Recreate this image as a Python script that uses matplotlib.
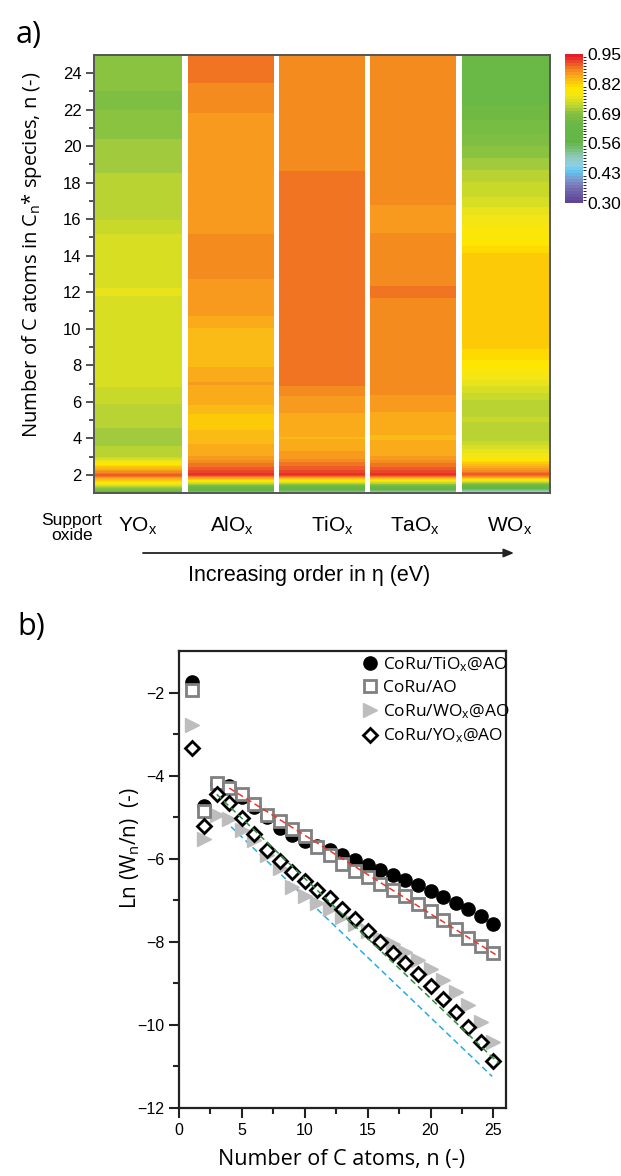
import numpy as np
import matplotlib
matplotlib.use("Agg")
import matplotlib.pyplot as plt
from matplotlib.colors import LinearSegmentedColormap, BoundaryNorm

# ------------------------------------------------------------------ data
# panel a : chain-growth probability per support oxide and carbon number
supports = ["YO", "AlO", "TiO", "TaO", "WO"]
n_carbon = np.arange(1, 26)
alpha_YOx = [0.62, 0.91, 0.725, 0.71, 0.72, 0.73, 0.745, 0.745, 0.755, 0.745,
             0.745, 0.758, 0.745, 0.745, 0.745, 0.728, 0.725, 0.72, 0.712, 0.705,
             0.70, 0.69, 0.69, 0.70, 0.70]
alpha_AlOx = [0.50, 0.93, 0.86, 0.84, 0.825, 0.85, 0.86, 0.845, 0.845, 0.845,
              0.865, 0.865, 0.875, 0.875, 0.875, 0.86, 0.86, 0.86, 0.86, 0.86,
              0.86, 0.875, 0.881, 0.89, 0.89]
alpha_TiOx = [0.48, 0.93, 0.865, 0.845, 0.855, 0.865, 0.888, 0.89, 0.89, 0.89,
              0.89, 0.89, 0.89, 0.89, 0.89, 0.89, 0.89, 0.89, 0.882, 0.875,
              0.875, 0.875, 0.875, 0.875, 0.875]
alpha_TaOx = [0.47, 0.93, 0.86, 0.845, 0.85, 0.87, 0.875, 0.875, 0.875, 0.875,
              0.875, 0.89, 0.875, 0.875, 0.875, 0.862, 0.875, 0.875, 0.875, 0.875,
              0.875, 0.875, 0.875, 0.875, 0.875]
alpha_WOx = [0.44, 0.91, 0.78, 0.72, 0.73, 0.725, 0.76, 0.80, 0.822, 0.825,
             0.825, 0.825, 0.825, 0.825, 0.79, 0.775, 0.745, 0.73, 0.71, 0.69,
             0.67, 0.655, 0.64, 0.64, 0.64]
cbar_ticks = [0.30, 0.43, 0.56, 0.69, 0.82, 0.95]

# panel b : ASF plots
n_b = np.arange(1, 26)
lnw_TiOx = [-1.75, -4.74, -4.20, -4.25, -4.52, -4.75, -5.00, -5.26, -5.44, -5.57,
            -5.69, -5.79, -5.91, -6.03, -6.15, -6.26, -6.39, -6.51, -6.64, -6.78,
            -6.91, -7.06, -7.22, -7.37, -7.56]
lnw_AO = [-1.93, -4.86, -4.18, -4.30, -4.43, -4.68, -4.95, -5.08, -5.28, -5.46,
          -5.71, -5.92, -6.12, -6.30, -6.45, -6.60, -6.75, -6.90, -7.08, -7.27,
          -7.48, -7.69, -7.90, -8.10, -8.27]
lnw_WOx = [-2.77, -5.53, -4.95, -5.05, -5.30, -5.55, -5.92, -6.22, -6.68, -6.90,
           -7.07, -7.22, -7.40, -7.56, -7.75, -7.90, -8.06, -8.24, -8.44, -8.66,
           -8.92, -9.20, -9.52, -9.94, -10.42]
lnw_YOx = [-3.33, -5.22, -4.45, -4.66, -5.03, -5.40, -5.80, -6.05, -6.33, -6.53,
           -6.75, -6.95, -7.20, -7.45, -7.74, -8.00, -8.26, -8.52, -8.78, -9.06,
           -9.38, -9.70, -10.04, -10.42, -10.86]
fit_AO_n, fit_AO_y = [4, 25.3], [-4.30, -8.33]
fit_YOx_n, fit_YOx_y = [3, 25.4], [-4.45, -10.92]
fit_WOx_n, fit_WOx_y = [3, 24.9], [-4.90, -11.24]

# ------------------------------------------------------------------ style
W, H = 621, 1176
def fx(x): return x / W
def fy(y): return 1 - y / H

HUM = ["Open Sans", "DejaVu Sans"]
ARIAL = ["Liberation Sans", "DejaVu Sans"]
plt.rcParams["font.family"] = ARIAL
plt.rcParams["mathtext.fontset"] = "custom"
plt.rcParams["mathtext.rm"] = "Liberation Sans"
plt.rcParams["mathtext.it"] = "Liberation Sans:italic"

stops = [(0.30, "#5e4596"), (0.36, "#7670b2"), (0.40, "#7d9ccf"), (0.43, "#5fc4ee"),
         (0.46, "#8ed0e6"), (0.50, "#8ec7b4"), (0.53, "#77bf78"), (0.56, "#63b548"),
         (0.64, "#68b846"), (0.68, "#7cbd42"), (0.70, "#8cc43f"), (0.71, "#a0ca3c"),
         (0.72, "#b5d334"), (0.745, "#d4dd22"), (0.77, "#f0e51a"), (0.80, "#ffe800"),
         (0.825, "#fdd000"), (0.845, "#fbb918"), (0.86, "#f9a51b"), (0.875, "#f6921e"),
         (0.89, "#f28021"), (0.91, "#ee5a28"), (0.93, "#e8362a"), (0.95, "#e31e26")]
lo, hi = 0.30, 0.95
cmap = LinearSegmentedColormap.from_list(
    "origin", [((v - lo) / (hi - lo), c) for v, c in stops])
levels = np.linspace(lo, hi, 51)
norm = BoundaryNorm(levels, cmap.N)

fig = plt.figure(figsize=(W / 100, H / 100), dpi=100)

# ------------------------------------------------------------------ panel a
axa = fig.add_axes([fx(94), fy(493.3), fx(550) - fx(94), fy(54.7) - fy(493.3)])
cols = [alpha_YOx, alpha_AlOx, alpha_TiOx, alpha_TaOx, alpha_WOx]
gap = 0.03
cs = None
for i, vals in enumerate(cols):
    x0 = i + (gap if i > 0 else 0)
    x1 = i + 1 - (gap if i < len(cols) - 1 else 0)
    Z = np.column_stack([vals, vals])
    cs = axa.contourf([x0, x1], n_carbon, Z, levels=levels, cmap=cmap, norm=norm)
axa.set_xlim(0, 5)
axa.set_ylim(1, 25)
axa.set_xticks([])
axa.set_yticks(np.arange(2, 25, 2))
axa.set_yticks(np.arange(3, 25, 2), minor=True)
axa.tick_params(axis="y", which="major", length=6, width=1.3, color="#444444",
                labelsize=12, pad=3)
axa.tick_params(axis="y", which="minor", length=3.5, width=1.3, color="#444444")
for s in axa.spines.values():
    s.set_color("#555555")
    s.set_linewidth(1.4)

fig.text(fx(32), fy(255), r"Number of C atoms in C$_\mathregular{n}$* species, n (-)",
         rotation=90, ha="center", va="center", fontsize=14.5, family=HUM)
fig.text(fx(29), fy(35), "a)", ha="center", va="center", fontsize=22, family=HUM)

# colorbar
cax = fig.add_axes([fx(565), fy(203), fx(583) - fx(565), fy(54) - fy(203)])
cb = fig.colorbar(cs, cax=cax, ticks=cbar_ticks)
cb.outline.set_visible(False)
cb.ax.tick_params(length=0, labelsize=12.5, pad=3)
cb.ax.set_yticklabels([f"{t:.2f}" for t in cbar_ticks])

# support labels
label_x = [138, 232, 332, 415, 510]
for name, xc in zip(supports, label_x):
    fig.text(fx(xc), fy(526), name + r"$_\mathregular{x}$", ha="center", va="center",
             fontsize=15)
fig.text(fx(72), fy(528), "Support\noxide", ha="center", va="center", fontsize=12.5,
         linespacing=1.05)
fig.patches.append(matplotlib.patches.FancyArrowPatch(
    (fx(143), fy(553)), (fx(514), fy(553)), transform=fig.transFigure,
    arrowstyle="-|>,head_length=6,head_width=2.5", color="#222222", lw=1.3,
    shrinkA=0, shrinkB=0))
fig.text(fx(309), fy(576), r"Increasing order in η (eV)", ha="center", va="center",
         fontsize=15.5)

# ------------------------------------------------------------------ panel b
axb = fig.add_axes([fx(179), fy(1108), fx(506) - fx(179), fy(651) - fy(1108)])
ms = 9.5
axb.plot(n_b, lnw_TiOx, "o", ms=ms, color="black", mec="black",
         label=r"CoRu/TiO$_\mathregular{x}$@AO", zorder=3)
axb.plot(n_b, lnw_WOx, ">", ms=ms, color="#bdbdbd", mec="#bdbdbd",
         label=r"CoRu/WO$_\mathregular{x}$@AO", zorder=3)
axb.plot(n_b, lnw_AO, "s", ms=8.2, mfc="white", mec="#808080", mew=2,
         label="CoRu/AO", zorder=4)
axb.plot(n_b, lnw_YOx, "D", ms=7.6, mfc="white", mec="black", mew=2,
         label=r"CoRu/YO$_\mathregular{x}$@AO", zorder=5)
axb.plot(fit_AO_n, fit_AO_y, "--", color="#e8382a", lw=1.1, dashes=(4, 2.5), zorder=6)
axb.plot(fit_YOx_n, fit_YOx_y, "--", color="#2f8f3a", lw=1.1, dashes=(4, 2.5), zorder=6)
axb.plot(fit_WOx_n, fit_WOx_y, "--", color="#29aae1", lw=1.1, dashes=(4, 2.5), zorder=2)
axb.set_xlim(0, 26)
axb.set_ylim(-12, -1)
axb.set_xticks(np.arange(0, 26, 5))
axb.set_xticks(np.arange(2.5, 26, 5), minor=True)
axb.set_yticks(np.arange(-12, -1, 2))
axb.set_yticks(np.arange(-11, -1, 2), minor=True)
axb.tick_params(which="major", direction="out", length=7, width=1.5, labelsize=11.5,
                color="#222222")
axb.tick_params(which="minor", direction="out", length=4, width=1.5, color="#222222")
for s in axb.spines.values():
    s.set_linewidth(1.6)
    s.set_color("#222222")

handles, labels = axb.get_legend_handles_labels()
order = [0, 2, 1, 3]
leg = axb.legend([handles[i] for i in order], [labels[i] for i in order],
                 loc="upper left", bbox_to_anchor=((362 - 179) / 327, 1 - (655 - 651) / 457),
                 frameon=False, handlelength=0.9, handletextpad=0.3, labelspacing=0.35,
                 borderaxespad=0, borderpad=0, prop={"family": HUM, "size": 12.5})

fig.text(fx(130), fy(848), r"Ln (W$_\mathregular{n}$/n)  (-)", rotation=90,
         ha="center", va="center", fontsize=15, family=HUM)
fig.text(fx(341), fy(1160), "Number of C atoms, n (-)", ha="center", va="center",
         fontsize=15.5, family=HUM)
fig.text(fx(31), fy(627), "b)", ha="center", va="center", fontsize=22, family=HUM)

fig.savefig("out.png", dpi=100)
